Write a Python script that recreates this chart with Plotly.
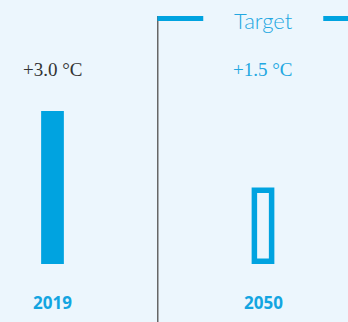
import plotly.graph_objects as go

categories = ["2019", "2050"]
values = [3.0, 1.5]
value_labels = ["+3.0 °C", "+1.5 °C"]
target_label = "Target"

W, H = 348, 322
BG = "#ecf6fd"
BLUE = "#00a3e0"
LIGHT_BLUE = "#22a7e1"

# axis geometry
x_range = [-0.2494, 1.4038]
y_range = [-1.137, 5.176]
px_x = W / (x_range[1] - x_range[0])
px_y = H / (y_range[1] - y_range[0])
bar_w = 0.108
lw = 5.5
ix = (lw / 2) / px_x
iy = (lw / 2) / px_y

fig = go.Figure()
# filled bar (actual)
fig.add_trace(go.Bar(x=[0], y=[values[0]], width=bar_w, marker=dict(color=BLUE, line=dict(width=0)),
                     hoverinfo="skip"))
# outlined bar (target) – inset so stroke stays inside the value rectangle
fig.add_trace(go.Bar(x=[1], y=[values[1] - 2 * iy], base=[iy], width=bar_w - 2 * ix,
                     marker=dict(color="rgba(0,0,0,0)", line=dict(color=BLUE, width=lw)),
                     hoverinfo="skip"))

def ann(x, ypx, text, font):
    fig.add_annotation(x=x, y=1 - ypx / H, xref="x", yref="paper", text=text, showarrow=False,
                       xanchor="center", yanchor="middle", font=font)

# value labels
ann(0, 70, value_labels[0], dict(family="Liberation Serif", size=19, color="#333333"))
ann(1, 70, value_labels[1], dict(family="Liberation Serif", size=19, color=LIGHT_BLUE))
# category labels
for i, c in enumerate(categories):
    ann(i, 302, "<b>" + c + "</b>", dict(family="Open Sans", size=17, color="#13a5e1"))
# Target title
ann(1, 21, target_label, dict(family="Lato", size=22, color=LIGHT_BLUE, weight=300))

# bracket
top_y = 1 - 18.5 / H
fig.add_shape(type="line", xref="x", yref="paper", x0=0.5, x1=0.5, y0=0, y1=1 - 16 / H,
              line=dict(color="#666666", width=1.5))
fig.add_shape(type="line", xref="x", yref="paper", x0=0.4985, x1=0.5 + (203 - 157.5) / px_x,
              y0=top_y, y1=top_y, line=dict(color=BLUE, width=5))
fig.add_shape(type="line", xref="x", yref="paper", x0=0.5 + (323 - 157.5) / px_x, x1=x_range[1],
              y0=top_y, y1=top_y, line=dict(color=BLUE, width=5))

fig.update_layout(
    width=W, height=H, margin=dict(l=0, r=0, t=0, b=0),
    paper_bgcolor=BG, plot_bgcolor=BG, showlegend=False, barmode="overlay",
    xaxis=dict(range=x_range, visible=False, fixedrange=True),
    yaxis=dict(range=y_range, visible=False, fixedrange=True),
)
fig.write_html("out.html", config={"displayModeBar": False})
